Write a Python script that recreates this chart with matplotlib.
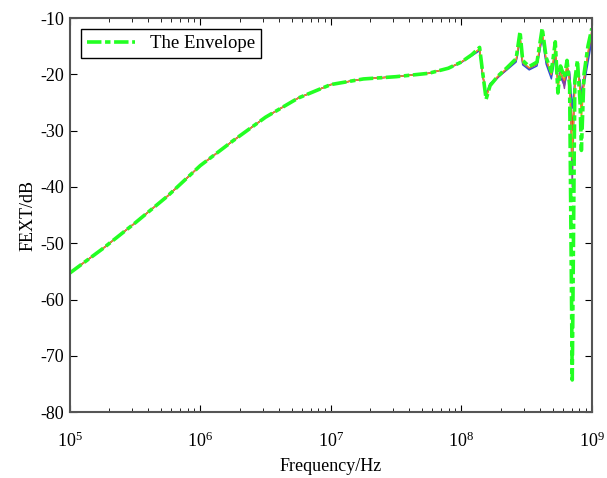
import matplotlib.pyplot as plt
import numpy as np

# envelope: log10(frequency) and FEXT in dB
log_freq = [5.00, 5.25, 5.50, 5.75, 6.00, 6.25, 6.50, 6.75, 7.00, 7.25, 7.50,
            7.75, 7.90, 8.00, 8.08, 8.14, 8.16, 8.19, 8.22, 8.28, 8.35, 8.42,
            8.45, 8.47, 8.52, 8.58, 8.62, 8.65, 8.69, 8.72, 8.74, 8.76, 8.79,
            8.81, 8.83, 8.85, 8.87, 8.89, 8.91, 8.92, 8.94, 8.97, 9.00]
envelope = [-55.3, -51.0, -46.4, -41.6, -36.2, -31.8, -27.6, -24.2, -21.8,
            -20.8, -20.4, -19.8, -18.9, -17.8, -16.5, -15.2, -19.0, -24.4,
            -22.0, -20.3, -18.8, -17.2, -12.4, -17.5, -18.6, -17.8, -11.8,
            -17.0, -19.5, -14.2, -23.3, -18.5, -20.5, -17.5, -22.0, -74.3,
            -21.0, -17.5, -25.0, -33.5, -20.0, -15.0, -11.8]

# other traces above 10^8 (below that they sit under the envelope)
hf_log_freq = [8.00, 8.08, 8.14, 8.16, 8.19, 8.22, 8.28, 8.35, 8.42, 8.45,
               8.47, 8.52, 8.58, 8.62, 8.65, 8.69, 8.72, 8.74, 8.76, 8.79,
               8.81, 8.83, 8.85, 8.87, 8.89, 8.91, 8.92, 8.94, 8.97, 9.00]
trace_red = [-17.8, -16.6, -15.6, -19.5, -23.8, -21.8, -20.4, -19.0, -17.6,
             -13.5, -18.0, -19.0, -18.2, -13.0, -17.8, -20.2, -16.0, -21.5,
             -19.5, -21.5, -19.0, -21.0, -30.0, -22.0, -19.0, -22.5, -24.0,
             -21.0, -17.0, -13.0]
trace_blue = [-17.9, -16.7, -15.8, -19.8, -23.5, -21.6, -20.5, -19.2, -17.8,
              -14.0, -18.3, -19.2, -18.5, -13.5, -18.2, -20.8, -16.8, -20.5,
              -20.5, -22.0, -20.0, -19.5, -26.0, -21.0, -20.0, -21.0, -23.0,
              -22.0, -18.0, -14.0]
trace_purple = [-17.8, -16.5, -15.5, -19.2, -24.0, -22.0, -20.6, -19.1, -17.5,
                -13.2, -17.8, -18.9, -18.0, -12.8, -17.5, -19.8, -15.5, -22.0,
                -19.0, -22.5, -18.5, -20.0, -40.0, -20.5, -19.5, -21.5, -26.0,
                -20.5, -16.5, -12.5]
trace_orange = [-17.8, -16.6, -15.4, -19.3, -24.2, -21.9, -20.3, -18.9, -17.4,
                -13.0, -17.9, -18.8, -18.1, -12.5, -17.3, -20.0, -15.0, -22.5,
                -19.8, -21.0, -18.0, -21.5, -35.0, -21.5, -18.5, -23.0, -28.0,
                -21.5, -16.0, -12.2]

plt.rcParams['font.family'] = ['Liberation Serif']
plt.rcParams['mathtext.fontset'] = 'stix'
plt.rcParams['axes.unicode_minus'] = False

freq = 10 ** np.array(log_freq)
hf_freq = 10 ** np.array(hf_log_freq)
n_low = log_freq.index(8.00)
trace_freq = np.concatenate([freq[:n_low], hf_freq])

fig = plt.figure(figsize=(6.07, 4.78), dpi=100)
ax = fig.add_axes([0.115, 0.138, 0.86, 0.824])

for trace, color in [(trace_red, '#e03030'), (trace_blue, '#3050d0'),
                     (trace_purple, '#9040a0'), (trace_orange, '#f09020')]:
    ax.plot(trace_freq, envelope[:n_low] + trace, color=color, linewidth=1)

ax.plot(freq, envelope, color='#22ff22', linewidth=2.6,
        linestyle=(0, (4, 1, 1.5, 1)), label='The Envelope')

ax.set_xscale('log')
ax.set_xlim(1e5, 1e9)
ax.set_ylim(-80, -10)
ax.set_yticks(range(-80, -9, 10))
ax.set_xlabel('Frequency/Hz', fontsize=13, labelpad=5)
ax.set_ylabel('FEXT/dB', fontsize=13, labelpad=3)
ax.tick_params(axis='both', which='both', direction='in', top=True, right=True,
               labelsize=13)
ax.tick_params(axis='x', which='major', pad=14)
ax.tick_params(axis='y', which='major', pad=4)
ax.tick_params(which='major', length=5)
ax.tick_params(which='minor', length=3)
for spine in ax.spines.values():
    spine.set_color('#555555')
    spine.set_linewidth(1.5)

leg = ax.legend(loc='upper left', fontsize=13.5, fancybox=False, framealpha=1,
                edgecolor='black', handlelength=2.6, borderaxespad=0.6,
                borderpad=0.3)
leg.get_frame().set_linewidth(1.0)

fig.savefig('out.png', dpi=100)
